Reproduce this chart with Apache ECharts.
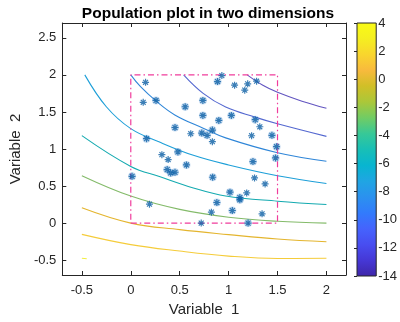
<!DOCTYPE html>
<html>
<head>
<meta charset="utf-8">
<script src="https://cdn.jsdelivr.net/npm/echarts@6/dist/echarts.min.js"></script>
<style>html,body{margin:0;padding:0;background:#fff}#c{width:400px;height:322px}</style>
</head>
<body>
<div id="c"></div>
<script>
// ---- data ----
const titleText = 'Population plot in two dimensions';
const xLabel = 'Variable  1';
const yLabel = 'Variable  2';
const xTicks = [-0.5, 0, 0.5, 1, 1.5, 2];
const yTicks = [-0.5, 0, 0.5, 1, 1.5, 2, 2.5];
const cbarMin = -14, cbarMax = 4;

// sample points
const ptsX = [0.151,0.127,0.258,0.556,0.737,0.737,0.887,0.931,1.061,1.195,1.165,1.286,0.900,1.028,1.272,1.319,0.452,0.613,0.726,0.780,0.834,0.834,1.235,1.443,0.161,1.490,1.480,1.249,1.265,1.373,0.318,0.382,0.482,0.372,0.408,0.452,0.569,0.013,0.837,1.014,1.185,1.115,1.115,0.880,0.191,0.824,1.038,1.342,0.720,1.199];
const ptsY = [1.900,1.630,1.655,1.570,1.655,1.453,1.910,1.990,1.861,1.879,1.794,1.915,1.386,1.453,1.395,1.300,1.290,1.206,1.215,1.184,1.256,1.099,1.179,1.184,1.139,1.031,0.879,0.830,0.610,0.529,0.924,0.857,0.960,0.722,0.677,0.686,0.785,0.632,0.619,0.417,0.408,0.345,0.314,0.278,0.256,0.148,0.170,0.126,0.000,0.000];
const haloIdx = [2,3,4,5,6,12,13,14,16,18,19,20,23,24,25,26,27,32,33,34,35,36,37,38,39,41,42,43,46,49];

// sampling box
const boxX = [0, 1.5];
const boxY = [0, 2];

// contour levels and their traced lines
const contourLevels = [4, 2, 0, -2, -4, -6, -8, -10, -12];
const cP4   = [[-0.5,-0.475],[-0.45,-0.48]];
const cP2   = [[-0.5,-0.152],[0,-0.29],[0.5,-0.377],[1,-0.445],[1.5,-0.478],[2,-0.475]];
const c0    = [[-0.5,0.207],[0,0.0],[0.5,-0.088],[1,-0.155],[1.5,-0.215],[2,-0.252]];
const cM2   = [[-0.5,0.64],[0,0.365],[0.5,0.185],[1,0.08],[1.5,0.025],[2,0.0]];
const cM4   = [[-0.5,1.18],[0,0.765],[0.3,0.625],[0.64,0.475],[0.97,0.365],[1.5,0.296],[2,0.252]];
const cM6   = [[-0.47,2.0],[-0.25,1.57],[0,1.275],[0.3,1.09],[0.64,0.915],[1,0.785],[1.5,0.64],[2,0.535]];
const cM8   = [[0,2.0],[0.1,1.84],[0.26,1.645],[0.45,1.46],[0.74,1.28],[0.97,1.15],[1.5,0.95],[2,0.835]];
const cM10  = [[0.54,2.0],[0.74,1.75],[0.97,1.565],[1.27,1.43],[1.5,1.34],[2,1.17]];
const cM12  = [[1.19,2.0],[1.35,1.86],[1.5,1.765],[1.75,1.645],[2,1.55]];
const contourLines = [cP4, cP2, c0, cM2, cM4, cM6, cM8, cM10, cM12];

// ---- styling ----
const lineColors = ['#f2ee40','#f5cc3a','#e4b52e','#84bb6a','#14aab0','#1d9fd8','#2f86d8','#5468d0','#6255c0'];
const parula = ['#3e26a8','#4537d5','#484df0','#4563fd','#327bfc','#2b91ef','#20a5e3','#08b5d0','#18bfb6','#37c897','#71cc64','#abc739','#d1bf27','#f8ba3d','#f9d62d','#f5ef20','#f9fb15'];
const font = 'Liberation Sans, Arial, Helvetica, sans-serif';
const txt = '#262626';
const starPath = 'path://M5 0 L5 10 M0 5 L10 5 M1.5 1.5 L8.5 8.5 M8.5 1.5 L1.5 8.5';

const chart = echarts.init(document.getElementById('c'), null, {renderer: 'canvas'});

const series = [];
contourLines.forEach((pts, i) => {
  series.push({
    type: 'line', xAxisIndex: 0, yAxisIndex: 0,
    data: pts, showSymbol: false, smooth: 0.4, silent: true,
    lineStyle: {color: lineColors[i], width: 1.1}, z: 2
  });
});
series.push({
  type: 'line', xAxisIndex: 0, yAxisIndex: 0, showSymbol: false, silent: true,
  data: [[boxX[0],boxY[0]],[boxX[1],boxY[0]],[boxX[1],boxY[1]],[boxX[0],boxY[1]],[boxX[0],boxY[0]]],
  lineStyle: {color: '#f03c9c', width: 1.2, type: [6,3,1.5,3]}, z: 3
});
series.push({
  type: 'scatter', xAxisIndex: 0, yAxisIndex: 0, silent: true,
  data: haloIdx.map(i => [ptsX[i], ptsY[i]]),
  symbol: 'circle', symbolSize: 8,
  itemStyle: {color: 'rgba(80,145,210,0.4)'}, z: 4
});
series.push({
  type: 'scatter', xAxisIndex: 0, yAxisIndex: 0, silent: true,
  data: ptsX.map((x, i) => [x, ptsY[i]]),
  symbol: starPath, symbolSize: 7,
  itemStyle: {color: 'rgba(0,0,0,0)', borderColor: '#0b5fa5', borderWidth: 1.2}, z: 5
});
series.push({
  type: 'custom', xAxisIndex: 2, yAxisIndex: 2, silent: true,
  data: [[0, cbarMin]],
  renderItem: function (params, api) {
    const p0 = api.coord([0, cbarMax]);
    const p1 = api.coord([1, cbarMin]);
    const stops = parula.slice().reverse().map((c, k) => ({offset: k / (parula.length - 1), color: c}));
    return {
      type: 'rect',
      shape: {x: p0[0], y: p0[1], width: p1[0] - p0[0], height: p1[1] - p0[1]},
      style: {fill: new echarts.graphic.LinearGradient(0, 0, 0, 1, stops), stroke: txt, lineWidth: 1}
    };
  }
});

const mainAxisCommon = {
  type: 'value', gridIndex: 0, min: -0.7, max: 2.2,
  axisLine: {show: true, onZero: false, lineStyle: {color: txt, width: 1}},
  splitLine: {show: false}
};

chart.setOption({
  animation: false,
  backgroundColor: '#fff',
  title: {
    text: titleText, left: 203, top: 1, textAlign: 'center',
    textStyle: {fontFamily: font, fontSize: 15.5, fontWeight: 'bold', color: '#000'}
  },
  grid: [
    {left: 59, top: 23, width: 287, height: 253, containLabel: false},
    {left: 357, top: 23, width: 21, height: 253, containLabel: false}
  ],
  xAxis: [
    Object.assign({}, mainAxisCommon, {
      position: 'bottom',
      name: xLabel, nameLocation: 'middle', nameGap: 27,
      nameTextStyle: {fontFamily: font, fontSize: 15, color: txt},
      axisTick: {show: true, inside: true, length: 4, customValues: xTicks, lineStyle: {color: txt}},
      axisLabel: {show: true, customValues: xTicks, margin: 9, fontFamily: font, fontSize: 13, color: txt}
    }),
    Object.assign({}, mainAxisCommon, {
      position: 'top',
      axisTick: {show: true, inside: true, length: 4, customValues: xTicks, lineStyle: {color: txt}},
      axisLabel: {show: false}
    }),
    {type: 'value', gridIndex: 1, min: 0, max: 1, show: false}
  ],
  yAxis: [
    {
      type: 'value', gridIndex: 0, min: -0.7, max: 2.7, position: 'left',
      axisLine: {show: true, onZero: false, lineStyle: {color: txt, width: 1}},
      splitLine: {show: false},
      name: yLabel, nameLocation: 'middle', nameGap: 36, nameRotate: 90,
      nameTextStyle: {fontFamily: font, fontSize: 15, color: txt},
      axisTick: {show: true, inside: true, length: 4, customValues: yTicks, lineStyle: {color: txt}},
      axisLabel: {show: true, customValues: yTicks, margin: 6, fontFamily: font, fontSize: 13, color: txt}
    },
    {
      type: 'value', gridIndex: 0, min: -0.7, max: 2.7, position: 'right',
      axisLine: {show: true, onZero: false, lineStyle: {color: txt, width: 1}},
      splitLine: {show: false},
      axisTick: {show: true, inside: true, length: 4, customValues: yTicks, lineStyle: {color: txt}},
      axisLabel: {show: false}
    },
    {
      type: 'value', gridIndex: 1, min: cbarMin, max: cbarMax, interval: 2, position: 'right',
      axisLine: {show: false},
      splitLine: {show: false},
      axisTick: {show: true, inside: true, length: 3, lineStyle: {color: txt}},
      axisLabel: {show: true, margin: 2, fontFamily: font, fontSize: 13, color: txt}
    }
  ],
  series: series
});
</script>
</body>
</html>
